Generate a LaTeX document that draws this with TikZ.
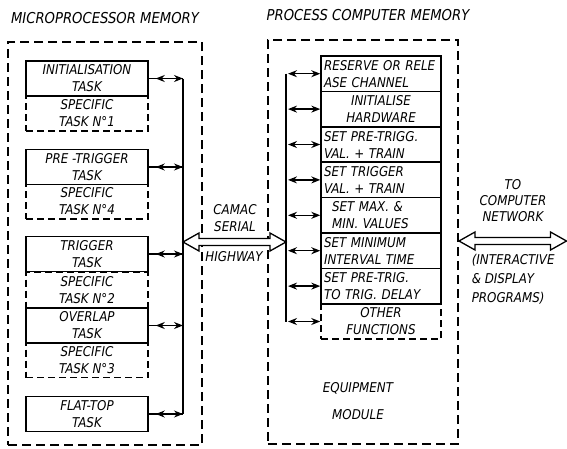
\documentclass[tikz,border=0pt]{standalone}
\usepackage{fontspec}
\setmainfont{DejaVu Sans}[FakeStretch=0.88]
\usetikzlibrary{arrows.meta, calc, positioning}

% hollow double arrow between two named coordinates
\newcommand{\highway}[2]{%
  \draw[line width=1.3pt, fill=white] (#1) -- ++(16,-9) -- ++(0,5.5)
    -- ($(#2)+(-16,-3.5)$) -- ++(0,-5.5) -- (#2) -- ++(-16,9) -- ++(0,-5.5)
    -- ($(#1)+(16,3.5)$) -- ++(0,5.5) -- cycle;}

\begin{document}
\begin{tikzpicture}[x=1pt, y=-1pt, line width=1.5pt,
  every node/.style={font=\itshape\fontsize{13.5}{17}\selectfont, inner sep=0pt},
  heading/.style={font=\itshape\fontsize{15}{17}\selectfont},
  memory/.style={rectangle, draw, line width=1.7pt, dash pattern=on 9pt off 5pt},
  task/.style={rectangle, draw, fill=white, minimum width=122pt, minimum height=35pt, align=center},
  spec/.style={task, dash pattern=on 7pt off 4pt},
  func/.style={rectangle, draw, fill=white, minimum width=120pt, minimum height=35.4pt, align=center},
  funcl/.style={func, text width=114pt, align=left},
  link/.style={{Stealth[length=9pt,width=7pt]}-{Stealth[length=9pt,width=7pt]}, line width=1.3pt}]
\useasboundingbox (0,0) rectangle (567,448);

% the two memories
\node[heading] (mptitle) at (105,18) {MICROPROCESSOR MEMORY};
\node[heading] (pctitle) at (368,15) {PROCESS COMPUTER MEMORY};
\node[memory, minimum width=194pt, minimum height=403pt] (micro) at (105,243.5) {};
\node[memory, minimum width=190pt, minimum height=404pt] (proc) at (363,242) {};

% microprocessor tasks
\node[spec] (spec1) at (87,113.5) {SPECIFIC\\TASK N°1};
\node[spec] (spec4) at (87,201.5) {SPECIFIC\\TASK N°4};
\node[spec] (spec2) at (87,290) {SPECIFIC\\TASK N°2};
\node[spec] (spec3) at (87,360) {SPECIFIC\\TASK N°3};
\node[task] (init) at (87,78.5) {INITIALISATION\\TASK};
\node[task] (pretrig) at (87,167) {PRE -TRIGGER\\TASK};
\node[task] (trig) at (87,254) {TRIGGER\\TASK};
\node[task] (overlap) at (87,325.5) {OVERLAP\\TASK};
\node[task] (flat) at (87,414) {FLAT-TOP\\TASK};

% process computer functions
\node[func, dash pattern=on 7pt off 4pt] (other) at (381,321.5) {OTHER\\FUNCTIONS};
\node[funcl] (resv) at (381,73.7) {RESERVE OR RELE\\ASE CHANNEL};
\node[func] (hard) at (381,109.1) {INITIALISE\\HARDWARE};
\node[funcl] (pretrigval) at (381,144.5) {SET PRE-TRIGG.\\VAL. + TRAIN};
\node[funcl] (trigval) at (381,179.9) {SET TRIGGER\\VAL. + TRAIN};
\node[funcl] (maxmin) at (381,215.3) {\hspace*{8pt}SET MAX. \&\\\hspace*{8pt}MIN. VALUES};
\node[funcl] (interval) at (381,250.7) {SET MINIMUM\\INTERVAL TIME};
\node[funcl] (delay) at (381,286.1) {SET PRE-TRIG.\\TO TRIG. DELAY};

\node[align=center, font=\itshape\fontsize{13.5}{27}\selectfont] (equip) at (358,401) {EQUIPMENT\\MODULE};

% buses
\coordinate (lbus) at (183,0);
\coordinate (rbus) at (286,0);
\draw[line width=1.3pt] (init.east -| lbus) -- (flat.east -| lbus);
\draw[line width=1.3pt] (resv.west -| rbus) -- (other.west -| rbus);
\foreach \t in {init, pretrig, trig, overlap, flat} {
  \draw[line width=1.3pt] (\t.east) -- (\t.east -| lbus);
  \draw[link, shorten <=7pt] (\t.east) -- (\t.east -| lbus);
}
\foreach \f in {resv, hard, pretrigval, trigval, maxmin, interval, delay, other} {
  \draw[link, shorten <=2pt] (\f.west -| rbus) -- (\f.west);
}

% camac serial highway
\node[align=center] (camac) at (235,218) {CAMAC\\SERIAL};
\node (hwy) at (234,257) {HIGHWAY};
\coordinate (hwl) at (183,242);
\coordinate (hwr) at (286,242);
\highway{hwl}{hwr}

% computer network
\node[align=center, font=\itshape\fontsize{13.5}{16}\selectfont] (net) at (513,201) {TO\\COMPUTER\\NETWORK};
\coordinate (netl) at (459,241);
\coordinate (netr) at (566.5,241);
\highway{netl}{netr}
\node[align=left, anchor=west, font=\itshape\fontsize{13.5}{19}\selectfont] (prog) at (471,279) {(INTERACTIVE\\\& DISPLAY\\PROGRAMS)};
\end{tikzpicture}
\end{document}
